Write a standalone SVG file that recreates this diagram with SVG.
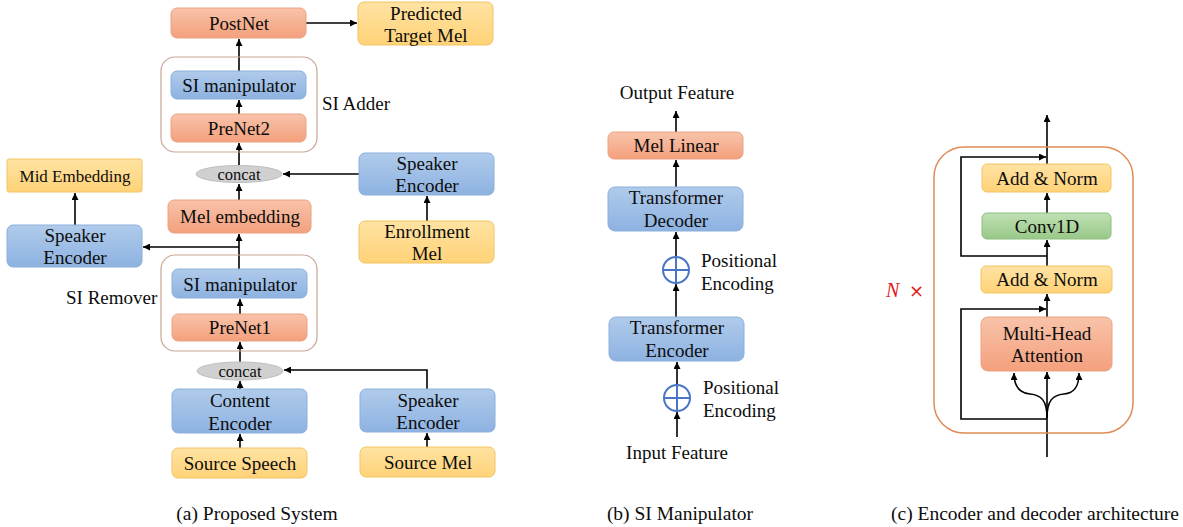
<svg xmlns="http://www.w3.org/2000/svg" width="1183" height="527" viewBox="0 0 1183 527">
<defs>
<linearGradient id="gO" x1="0" y1="0" x2="0" y2="1"><stop offset="0" stop-color="#f8c3aa"/><stop offset="1" stop-color="#f4a07c"/></linearGradient>
<linearGradient id="gB" x1="0" y1="0" x2="0" y2="1"><stop offset="0" stop-color="#b0cbeb"/><stop offset="1" stop-color="#8db2e1"/></linearGradient>
<linearGradient id="gY" x1="0" y1="0" x2="0" y2="1"><stop offset="0" stop-color="#ffe3a3"/><stop offset="1" stop-color="#ffd277"/></linearGradient>
<linearGradient id="gG" x1="0" y1="0" x2="0" y2="1"><stop offset="0" stop-color="#c0e0b4"/><stop offset="1" stop-color="#98c988"/></linearGradient>
<marker id="ar" viewBox="0 0 10 10" refX="10" refY="5" markerWidth="7" markerHeight="7" markerUnits="userSpaceOnUse" orient="auto"><path d="M0,0 L10,5 L0,10 z" fill="#000"/></marker>
</defs>
<style>
text{font-family:"Liberation Serif","Times New Roman",serif;font-size:19px;fill:#0d0d0d;text-anchor:middle}
.o{fill:url(#gO);stroke:#eaa283;stroke-width:1}
.b{fill:url(#gB);stroke:#8cafdc;stroke-width:1}
.y{fill:url(#gY);stroke:#f1c462;stroke-width:1}
.g{fill:url(#gG);stroke:#8fbf80;stroke-width:1}
.c{fill:none;stroke:#c9a594;stroke-width:1.2}
.w{fill:none;stroke:#000;stroke-width:1.6}
.a{fill:none;stroke:#000;stroke-width:1.6;marker-end:url(#ar)}
.pe{fill:#fff;stroke:#4a74c4;stroke-width:2}
.l{text-anchor:start}
.cap{font-size:19.5px}
</style>
<rect width="1183" height="527" fill="#fff"/>

<g id="connectors">
<line class="a" x1="306" y1="23" x2="357" y2="23"/>
<line class="a" x1="239" y1="71" x2="239" y2="39"/>
<line class="a" x1="239" y1="114" x2="239" y2="100"/>
<line class="a" x1="239" y1="166" x2="239" y2="143"/>
<line class="a" x1="359" y1="174" x2="283" y2="174"/>
<line class="a" x1="427" y1="221" x2="427" y2="196"/>
<line class="a" x1="239" y1="200" x2="239" y2="184"/>
<line class="a" x1="239" y1="269" x2="239" y2="234"/>
<polyline class="a" points="239,247 143,247"/>
<line class="a" x1="75" y1="225" x2="75" y2="193"/>
<line class="a" x1="240" y1="314" x2="240" y2="299"/>
<line class="a" x1="240" y1="362" x2="240" y2="342"/>
<line class="a" x1="240" y1="389" x2="240" y2="381"/>
<polyline class="a" points="427,389 427,370 284,370"/>
<line class="a" x1="240" y1="448" x2="240" y2="434"/>
<line class="a" x1="427" y1="447" x2="427" y2="433"/>

<line class="a" x1="676" y1="132" x2="676" y2="111"/>
<line class="a" x1="676" y1="187" x2="676" y2="160"/>
<line class="a" x1="676" y1="257" x2="676" y2="232"/>
<line class="a" x1="676" y1="317" x2="676" y2="284"/>
<line class="a" x1="677" y1="385" x2="677" y2="362"/>
<line class="a" x1="677" y1="437" x2="677" y2="412"/>

<line class="a" x1="1047" y1="164" x2="1047" y2="115"/>
<line class="a" x1="1047" y1="213" x2="1047" y2="193"/>
<line class="a" x1="1047" y1="266" x2="1047" y2="240"/>
<line class="a" x1="1047" y1="317" x2="1047" y2="294"/>
<line class="a" x1="1047" y1="457" x2="1047" y2="372"/>
<polyline class="a" points="1047,256 961,256 961,157 1046,157"/>
<polyline class="a" points="1047,419 961,419 961,309 1046,309"/>
<path class="a" d="M1047,418 C1047,400 1041,395 1030,394 C1019,393 1014,386 1014,373"/>
<path class="a" d="M1047,418 C1047,400 1053,395 1064,394 C1075,393 1079,386 1079,373"/>
</g>

<g id="si-adder"><rect class="c" x="161" y="57" width="156" height="95" rx="14"/><text class="l" x="322" y="110">SI Adder</text></g>
<g id="si-remover"><rect class="c" x="161" y="255" width="156" height="96" rx="14"/><text class="l" x="66" y="304">SI Remover</text></g>
<g id="enc-block"><rect fill="none" stroke="#e08b55" stroke-width="1.5" x="934" y="147" width="199" height="286" rx="30"/></g>

<g id="postnet"><rect class="o" x="171" y="8" width="135" height="30" rx="6"/><text x="239" y="30">PostNet</text></g>
<g id="predicted"><rect class="y" x="358" y="2" width="135" height="43" rx="6"/><text x="426" y="20">Predicted</text><text x="426" y="42">Target Mel</text></g>
<g id="si-manip-top"><rect class="b" x="171" y="71" width="135" height="28" rx="6"/><text x="239" y="92">SI manipulator</text></g>
<g id="prenet2"><rect class="o" x="171" y="114" width="135" height="28" rx="6"/><text x="239" y="135">PreNet2</text></g>
<g id="concat-top"><ellipse cx="239" cy="174" rx="43" ry="8.5" fill="#d0d0d0" stroke="#bdbdbd"/><text x="239" y="180" style="font-size:16.5px">concat</text></g>
<g id="spk-enc-top"><rect class="b" x="359" y="153" width="135" height="42" rx="6"/><text x="427" y="170">Speaker</text><text x="427" y="192">Encoder</text></g>
<g id="enroll"><rect class="y" x="359" y="221" width="135" height="42" rx="6"/><text x="427" y="238">Enrollment</text><text x="427" y="260">Mel</text></g>
<g id="mid-emb"><rect class="y" x="7" y="159" width="135" height="33" rx="2"/><text x="75" y="182" style="font-size:17px">Mid Embedding</text></g>
<g id="spk-enc-left"><rect class="b" x="7" y="225" width="135" height="42" rx="6"/><text x="75" y="242">Speaker</text><text x="75" y="264">Encoder</text></g>
<g id="mel-emb"><rect class="o" x="168" y="200" width="143" height="33" rx="6"/><text x="240" y="223">Mel embedding</text></g>
<g id="si-manip-bot"><rect class="b" x="172" y="269" width="135" height="29" rx="6"/><text x="240" y="291">SI manipulator</text></g>
<g id="prenet1"><rect class="o" x="172" y="314" width="135" height="27" rx="6"/><text x="240" y="334">PreNet1</text></g>
<g id="concat-bot"><ellipse cx="240" cy="371" rx="43" ry="9" fill="#d0d0d0" stroke="#bdbdbd"/><text x="240" y="377" style="font-size:16.5px">concat</text></g>
<g id="content-enc"><rect class="b" x="172" y="389" width="135" height="44" rx="6"/><text x="240" y="407">Content</text><text x="240" y="430">Encoder</text></g>
<g id="spk-enc-bot"><rect class="b" x="360" y="389" width="135" height="43" rx="6"/><text x="428" y="407">Speaker</text><text x="428" y="429">Encoder</text></g>
<g id="src-speech"><rect class="y" x="172" y="448" width="135" height="30" rx="6"/><text x="240" y="470">Source Speech</text></g>
<g id="src-mel"><rect class="y" x="360" y="447" width="135" height="30" rx="6"/><text x="428" y="469">Source Mel</text></g>
<text class="cap" x="257" y="520">(a) Proposed System</text>

<g id="output-feature"><text x="677" y="99">Output Feature</text></g>
<g id="mel-linear"><rect class="o" x="608" y="132" width="135" height="27" rx="6"/><text x="676" y="152">Mel Linear</text></g>
<g id="tr-dec"><rect class="b" x="608" y="187" width="135" height="44" rx="7"/><text x="676" y="204">Transformer</text><text x="676" y="227">Decoder</text></g>
<g id="pe-top"><circle class="pe" cx="676" cy="270" r="13"/><line x1="663" y1="270" x2="689" y2="270" stroke="#4a74c4" stroke-width="2"/><line x1="676" y1="257" x2="676" y2="283" stroke="#4a74c4" stroke-width="2"/><text class="l" x="701" y="267">Positional</text><text class="l" x="701" y="290">Encoding</text></g>
<g id="tr-enc"><rect class="b" x="609" y="317" width="135" height="44" rx="7"/><text x="677" y="334">Transformer</text><text x="677" y="357">Encoder</text></g>
<g id="pe-bot"><circle class="pe" cx="677" cy="398" r="13"/><line x1="664" y1="398" x2="690" y2="398" stroke="#4a74c4" stroke-width="2"/><line x1="677" y1="385" x2="677" y2="411" stroke="#4a74c4" stroke-width="2"/><text class="l" x="703" y="394">Positional</text><text class="l" x="703" y="417">Encoding</text></g>
<g id="input-feature"><text x="677" y="459">Input Feature</text></g>
<text class="cap" x="680" y="520">(b) SI Manipulator</text>

<g id="addnorm-top"><rect class="y" x="982" y="164" width="129" height="28" rx="5"/><text x="1047" y="185">Add &amp; Norm</text></g>
<g id="conv1d"><rect class="g" x="982" y="213" width="129" height="26" rx="5"/><text x="1047" y="233">Conv1D</text></g>
<g id="addnorm-bot"><rect class="y" x="981" y="266" width="131" height="27" rx="5"/><text x="1047" y="286">Add &amp; Norm</text></g>
<g id="mha"><rect class="o" x="981" y="317" width="131" height="54" rx="7"/><text x="1047" y="340">Multi-Head</text><text x="1047" y="362">Attention</text></g>
<g id="n-times"><text class="l" x="886" y="297" style="fill:#e31a1a;font-style:italic;font-size:20px">N</text><text class="l" x="909" y="297" style="fill:#e31a1a;font-family:'DejaVu Sans',sans-serif;font-size:18px">×</text></g>
<text class="cap" x="1035" y="520">(c) Encoder and decoder architecture</text>
</svg>
